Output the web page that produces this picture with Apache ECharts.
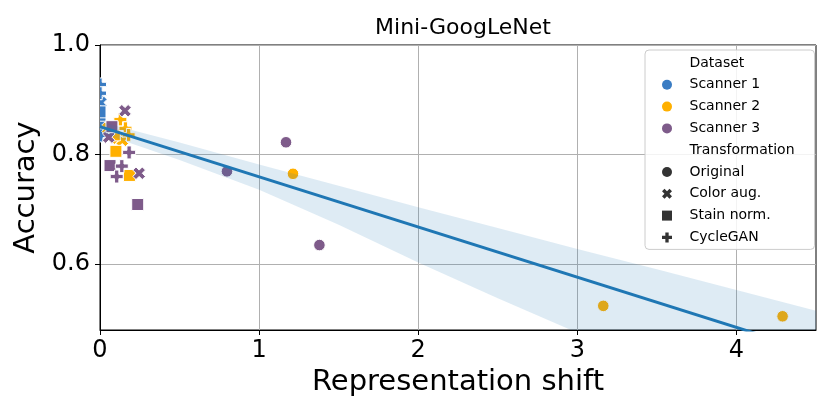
<!DOCTYPE html>
<html>
<head>
<meta charset="utf-8">
<script src="https://cdn.jsdelivr.net/npm/echarts@6/dist/echarts.min.js"></script>
<style>html,body{margin:0;padding:0;background:#fff}#chart{width:830px;height:415px}</style>
</head>
<body>
<div id="chart"></div>
<script>
// ---- data ----
const scannerNames = ['Scanner 1', 'Scanner 2', 'Scanner 3'];
const scannerColors = ['#3a7cc3', '#ffb000', '#7e5b8a'];
const transformNames = ['Original', 'Color aug.', 'Stain norm.', 'CycleGAN'];

// each point: shift, accuracy, scanner index, transformation index
const pointShift = [
  0, 0, 0.005,   0, 0, 0.005,   0, 0, 0,   0, 0, 0.005,
  1.213, 3.163, 4.29,   0.05, 0.11, 0.14,   0.09, 0.10, 0.185,   0.128, 0.16, 0.18,
  0.798, 1.169, 1.379,   0.157, 0.055, 0.246,   0.075, 0.063, 0.237,   0.183, 0.137, 0.105
];
const pointAccuracy = [
  0.872, 0.885, 0.858,   0.905, 0.84, 0.895,   0.865, 0.85, 0.878,   0.928, 0.912, 0.835,
  0.765, 0.524, 0.505,   0.848, 0.83, 0.826,   0.836, 0.806, 0.762,   0.864, 0.848, 0.836,
  0.7695, 0.8225, 0.635,   0.880, 0.832, 0.766,   0.851, 0.780, 0.709,   0.804, 0.779, 0.760
];
const pointScanner = [
  0,0,0, 0,0,0, 0,0,0, 0,0,0,
  1,1,1, 1,1,1, 1,1,1, 1,1,1,
  2,2,2, 2,2,2, 2,2,2, 2,2,2
];
const pointTransform = [
  0,0,0, 1,1,1, 2,2,2, 3,3,3,
  0,0,0, 1,1,1, 2,2,2, 3,3,3,
  0,0,0, 1,1,1, 2,2,2, 3,3,3
];

// regression fit and confidence band
const fitShift = [0, 4.5];
const fitAccuracy = [0.851, 0.439];
const bandShift = [0, 0.5, 1, 1.5, 2, 2.5, 3, 3.5, 4, 4.5];
const bandUpper = [0.860, 0.822, 0.782, 0.743, 0.704, 0.666, 0.628, 0.591, 0.553, 0.515];
const bandLower = [0.840, 0.790, 0.736, 0.672, 0.603, 0.538, 0.475, 0.412, 0.350, 0.290];

const xTicks = [0, 1, 2, 3, 4];
const yTicks = [0.6, 0.8, 1.0];

// ---- chart ----
const FONT = 'DejaVu Sans';
const xPts = [[2,-4],[4,-2],[2,0],[4,2],[2,4],[0,2],[-2,4],[-4,2],[-2,0],[-4,-2],[-2,-4],[0,-2]];
const plusPts = [[-1,-3],[1,-3],[1,-1],[3,-1],[3,1],[1,1],[1,3],[-1,3],[-1,1],[-3,1],[-3,-1],[-1,-1]];
const toPath = pts => 'path://' + pts.map((p, i) => (i ? 'L' : 'M') + p[0] + ',' + p[1]).join('') + 'Z';
const squarePath = 'path://M0,0L1,0L1,1L0,1Z';
const legendSymbols = ['circle', toPath(xPts), squarePath, toPath(plusPts)];

function markerShape(t, cx, cy, color) {
  const style = { fill: color, stroke: '#ffffff', lineWidth: 1 };
  if (t === 0) return { type: 'circle', shape: { cx: cx, cy: cy, r: 5.8 }, style: style };
  if (t === 2) return { type: 'rect', shape: { x: cx - 6, y: cy - 6, width: 12, height: 12 }, style: style };
  const src = t === 1 ? xPts : plusPts;
  const k = t === 1 ? 6.3 / 4 : 6.5 / 3;
  return { type: 'polygon', shape: { points: src.map(p => [cx + p[0] * k, cy + p[1] * k]) }, style: style };
}

const pointData = pointShift.map((x, i) => [x, pointAccuracy[i], pointScanner[i], pointTransform[i]]);

const series = [];
series.push({
  type: 'custom',
  name: 'points',
  data: pointData,
  encode: { x: 0, y: 1 },
  clip: true,
  z: 2,
  silent: true,
  renderItem: function (params, api) {
    const c = api.coord([api.value(0), api.value(1)]);
    return markerShape(api.value(3), c[0], c[1], scannerColors[api.value(2)]);
  }
});

// confidence band (drawn above points like seaborn)
series.push({
  type: 'custom',
  name: 'band',
  data: [[bandShift[0], bandUpper[0]]],
  encode: { x: 0, y: 1 },
  clip: true,
  z: 3,
  silent: true,
  renderItem: function (params, api) {
    const pts = [];
    for (let i = 0; i < bandShift.length; i++) pts.push(api.coord([bandShift[i], bandUpper[i]]));
    for (let i = bandShift.length - 1; i >= 0; i--) pts.push(api.coord([bandShift[i], bandLower[i]]));
    return { type: 'polygon', shape: { points: pts }, style: { fill: 'rgba(31,119,180,0.15)' } };
  }
});

// regression line
series.push({
  type: 'line',
  name: 'fit',
  data: fitShift.map((x, i) => [x, fitAccuracy[i]]),
  showSymbol: false,
  symbol: 'none',
  lineStyle: { color: '#1f77b4', width: 3 },
  clip: true,
  z: 4,
  silent: true
});

// legend-only series
const legendData = [];
function addLegend(name, icon, color) {
  legendData.push({ name: name, icon: icon, itemStyle: { color: color, opacity: 1, borderWidth: 0 } });
  series.push({ type: 'scatter', name: name, data: [], itemStyle: { color: color, opacity: 1 } });
}
addLegend('Dataset', 'circle', 'rgba(0,0,0,0)');
scannerNames.forEach((n, i) => addLegend(n, 'circle', scannerColors[i]));
addLegend('Transformation', 'circle', 'rgba(0,0,0,0)');
transformNames.forEach((n, i) => addLegend(n, legendSymbols[i], '#333333'));

const chart = echarts.init(document.getElementById('chart'), null, { renderer: 'canvas' });
chart.setOption({
  animation: false,
  backgroundColor: '#ffffff',
  textStyle: { fontFamily: FONT, color: '#000' },
  title: {
    text: 'Mini-GoogLeNet',
    left: 458, top: 12, textAlign: 'center',
    textStyle: { fontFamily: FONT, fontSize: 22, fontWeight: 'normal', color: '#000' }
  },
  grid: {
    left: 100, right: 14, top: 45, bottom: 85,
    show: true, borderColor: '#000', borderWidth: 1, backgroundColor: 'transparent',
    containLabel: false
  },
  legend: {
    orient: 'vertical',
    left: 645, top: 50,
    data: legendData,
    itemWidth: 35, itemHeight: 10, itemGap: 7.8,
    padding: [6, 20, 5, 17],
    backgroundColor: 'rgba(255,255,255,0.85)',
    borderColor: '#cccccc', borderWidth: 1, borderRadius: 4,
    selectedMode: false,
    textStyle: { fontFamily: FONT, fontSize: 14, color: '#000', lineHeight: 14 },
    z: 10
  },
  xAxis: {
    type: 'value', min: 0, max: 4.5,
    name: 'Representation shift', nameLocation: 'middle', nameGap: 36,
    nameTextStyle: { fontFamily: FONT, fontSize: 29, color: '#000' },
    axisLine: { show: true, onZero: false, lineStyle: { color: '#000', width: 1 } },
    axisTick: { show: true, length: 5, customValues: xTicks, lineStyle: { color: '#000', width: 1 } },
    axisLabel: { customValues: xTicks, fontFamily: FONT, fontSize: 24, color: '#000', margin: 9, formatter: v => String(v) },
    splitLine: { show: true, lineStyle: { color: '#b0b0b0', width: 1 } }
  },
  yAxis: {
    type: 'value', min: 0.48, max: 1.0,
    name: 'Accuracy', nameLocation: 'middle', nameGap: 58, nameRotate: 90,
    nameTextStyle: { fontFamily: FONT, fontSize: 29, color: '#000' },
    axisLine: { show: true, onZero: false, lineStyle: { color: '#000', width: 1 } },
    axisTick: { show: true, length: 5, customValues: yTicks, lineStyle: { color: '#000', width: 1 } },
    axisLabel: { customValues: yTicks, fontFamily: FONT, fontSize: 24, color: '#000', margin: 10, formatter: v => v.toFixed(1) },
    splitLine: { show: true, lineStyle: { color: '#b0b0b0', width: 1 } }
  },
  series: series
});
</script>
</body>
</html>
